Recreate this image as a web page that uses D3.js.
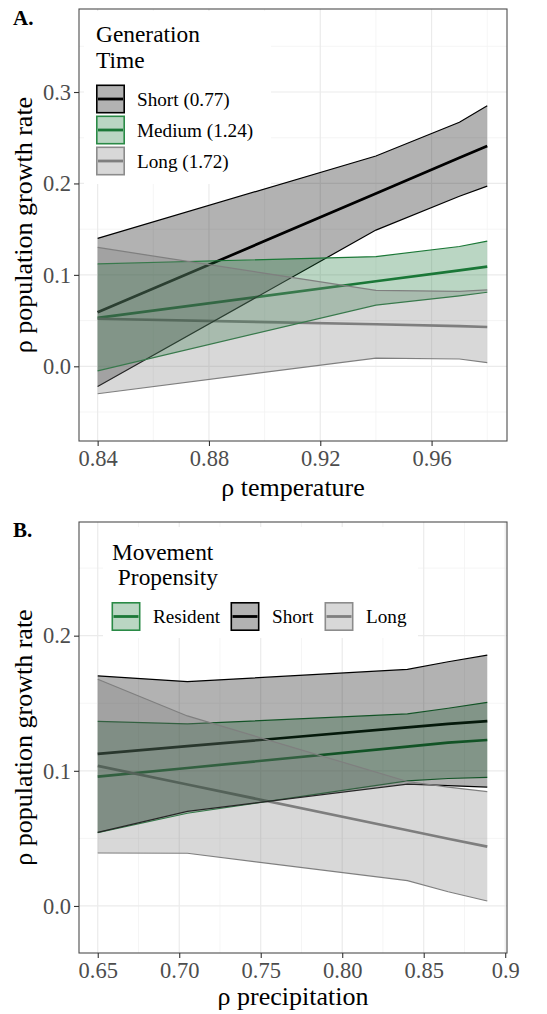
<!DOCTYPE html>
<html>
<head>
<meta charset="utf-8">
<script src="https://cdn.jsdelivr.net/npm/d3@7"></script>
<style>
  html, body { margin: 0; padding: 0; background: #ffffff; }
  svg, svg text { font-family: "Liberation Serif", "Times New Roman", Times, "Noto Serif", "Nimbus Roman", "FreeSerif", "Tinos", "DejaVu Serif", serif !important; }
</style>
</head>
<body>
<svg id="fig" width="547" height="1014"></svg>
<script>
// ---- Panel A: generation time vs. temperature correlation ----
const tempX = [0.84, 0.94, 0.97, 0.98];
const genGroups = ["Short (0.77)", "Medium (1.24)", "Long (1.72)"];
const genShortMean  = [0.059, 0.189, 0.228, 0.241];
const genShortUpper = [0.140, 0.230, 0.267, 0.285];
const genShortLower = [-0.022, 0.149, 0.186, 0.197];
const genMediumMean  = [0.053, 0.093, 0.105, 0.109];
const genMediumUpper = [0.112, 0.120, 0.131, 0.137];
const genMediumLower = [-0.005, 0.067, 0.077, 0.081];
const genLongMean  = [0.052, 0.046, 0.044, 0.043];
const genLongUpper = [0.130, 0.083, 0.082, 0.0835];
const genLongLower = [-0.030, 0.009, 0.008, 0.004];
const tempTicks = [0.84, 0.88, 0.92, 0.96];
const tempTickLabels = ["0.84", "0.88", "0.92", "0.96"];
const tempMinor = [0.86, 0.90, 0.94, 0.98];
const growthTicksA = [0.0, 0.1, 0.2, 0.3];
const growthTickLabelsA = ["0.0", "0.1", "0.2", "0.3"];
const growthMinorA = [-0.05, 0.05, 0.15, 0.25, 0.35];

// ---- Panel B: movement propensity vs. precipitation correlation ----
const precipX = [0.65, 0.705, 0.84, 0.865, 0.889];
const moveGroups = ["Resident", "Short", "Long"];
const moveResidentMean  = [0.0957, 0.1021, 0.1179, 0.1208, 0.1228];
const moveResidentUpper = [0.1366, 0.1347, 0.1421, 0.1463, 0.1507];
const moveResidentLower = [0.0543, 0.0686, 0.0926, 0.0943, 0.0952];
const moveShortMean  = [0.1125, 0.1182, 0.1322, 0.1348, 0.1368];
const moveShortUpper = [0.1703, 0.1660, 0.1750, 0.1807, 0.1856];
const moveShortLower = [0.0545, 0.0700, 0.0902, 0.0890, 0.0880];
const moveLongMean  = [0.1037, 0.0899, 0.0560, 0.0497, 0.0439];
const moveLongUpper = [0.1678, 0.1406, 0.0921, 0.0880, 0.0846];
const moveLongLower = [0.0392, 0.0390, 0.0188, 0.0105, 0.0037];
const precipTicks = [0.65, 0.70, 0.75, 0.80, 0.85, 0.90];
const precipTickLabels = ["0.65", "0.70", "0.75", "0.80", "0.85", "0.9"];
const precipMinor = [0.675, 0.725, 0.775, 0.825, 0.875];
const growthTicksB = [0.0, 0.1, 0.2];
const growthTickLabelsB = ["0.0", "0.1", "0.2"];
const growthMinorB = [0.05, 0.15, 0.25];

// group colours
const COL_BLACK = "#000000";
const COL_GREEN = "#1b7837";
const COL_GREY  = "#7f7f7f";
const FILL_ALPHA = 0.3;
const SERIF = "'Liberation Serif', 'Times New Roman', Times, 'Noto Serif', 'Nimbus Roman', FreeSerif, Tinos, 'DejaVu Serif', serif";

const svg = d3.select("#fig");

function buildPanel(cfg) {
  const { left, right, top, bottom } = cfg.box;
  const x = d3.scaleLinear().domain(cfg.xDomain).range([left, right]);
  const y = d3.scaleLinear().domain(cfg.yDomain).range([bottom, top]);
  const g = svg.append("g").attr("font-family", SERIF);

  // panel background
  g.append("rect").attr("x", left).attr("y", top)
    .attr("width", right - left).attr("height", bottom - top).attr("fill", "#fff");

  // grid lines
  const grid = g.append("g");
  cfg.xMinor.forEach(v => grid.append("line")
    .attr("x1", x(v)).attr("x2", x(v)).attr("y1", top).attr("y2", bottom)
    .attr("stroke", "#f2f2f2").attr("stroke-width", 0.8));
  cfg.yMinor.filter(v => y(v) > top && y(v) < bottom).forEach(v => grid.append("line")
    .attr("x1", left).attr("x2", right).attr("y1", y(v)).attr("y2", y(v))
    .attr("stroke", "#f2f2f2").attr("stroke-width", 0.8));
  cfg.xTicks.forEach(v => grid.append("line")
    .attr("x1", x(v)).attr("x2", x(v)).attr("y1", top).attr("y2", bottom)
    .attr("stroke", "#ebebeb").attr("stroke-width", 1.2));
  cfg.yTicks.forEach(v => grid.append("line")
    .attr("x1", left).attr("x2", right).attr("y1", y(v)).attr("y2", y(v))
    .attr("stroke", "#ebebeb").attr("stroke-width", 1.2));

  // series
  const series = cfg.series.map(s => ({
    ...s,
    pts: cfg.xs.map((xv, i) => ({ x: xv, m: s.mean[i], lo: s.lower[i], hi: s.upper[i] }))
  }));

  const meanLine = d3.line().x(d => x(d.x)).y(d => y(d.m));
  const upLine = d3.line().x(d => x(d.x)).y(d => y(d.hi));
  const loLine = d3.line().x(d => x(d.x)).y(d => y(d.lo));
  const band = d3.area().x(d => x(d.x)).y0(d => y(d.lo)).y1(d => y(d.hi));

  // fitted lines sit underneath the confidence ribbons
  series.forEach(s => g.append("path").attr("d", meanLine(s.pts))
    .attr("fill", "none").attr("stroke", s.color).attr("stroke-width", 2.7));
  series.forEach(s => {
    g.append("path").attr("d", band(s.pts))
      .attr("fill", s.color).attr("fill-opacity", FILL_ALPHA).attr("stroke", "none");
    [upLine, loLine].forEach(fn => g.append("path").attr("d", fn(s.pts))
      .attr("fill", "none").attr("stroke", s.color).attr("stroke-width", 1.2));
  });

  // panel border
  g.append("rect").attr("x", left).attr("y", top)
    .attr("width", right - left).attr("height", bottom - top)
    .attr("fill", "none").attr("stroke", "#4d4d4d").attr("stroke-width", 1.1);

  // axes built with d3 axis generators
  const xAxis = d3.axisBottom(x).tickValues(cfg.xTicks)
    .tickFormat((d, i) => cfg.xTickLabels[i]).tickSize(5).tickPadding(4);
  const yAxis = d3.axisLeft(y).tickValues(cfg.yTicks)
    .tickFormat((d, i) => cfg.yTickLabels[i]).tickSize(5).tickPadding(3);

  const gx = g.append("g").attr("transform", `translate(0,${bottom})`).call(xAxis);
  const gy = g.append("g").attr("transform", `translate(${left},0)`).call(yAxis);
  [gx, gy].forEach(ax => {
    ax.attr("font-family", SERIF).attr("font-size", 22.5);
    ax.select(".domain").remove();
    ax.selectAll(".tick line").attr("stroke", "#333333").attr("stroke-width", 1.1);
    ax.selectAll(".tick text").attr("fill", "#4d4d4d");
  });
  gx.selectAll(".tick text").attr("dy", "0.71em");

  // axis titles
  g.append("text").attr("x", (left + right) / 2).attr("y", cfg.xTitleY)
    .attr("text-anchor", "middle").attr("font-size", 26).attr("fill", "#000")
    .text(cfg.xTitle);
  g.append("text")
    .attr("transform", `translate(32,${(top + bottom) / 2}) rotate(-90)`)
    .attr("text-anchor", "middle").attr("font-size", 26).attr("fill", "#000")
    .text("ρ population growth rate");

  // panel tag
  g.append("text").attr("x", 13).attr("y", cfg.tagY)
    .attr("font-size", 21).attr("font-weight", "bold").attr("fill", "#000")
    .text(cfg.tag);

  // legend
  const L = cfg.legend;
  const lg = g.append("g");
  lg.append("rect").attr("x", L.box[0]).attr("y", L.box[1])
    .attr("width", L.box[2]).attr("height", L.box[3]).attr("fill", "#fff");
  L.title.forEach((t, i) => lg.append("text")
    .attr("x", L.titleX[i]).attr("y", L.titleY[i])
    .attr("font-size", 23.4).attr("fill", "#000").attr("xml:space", "preserve").text(t));
  series.forEach((s, i) => {
    const kx = L.keyX[i], ky = L.keyY[i], ks = L.keySize;
    lg.append("rect").attr("x", kx).attr("y", ky).attr("width", ks).attr("height", ks)
      .attr("fill", "#fff");
    lg.append("rect").attr("x", kx + 0.8).attr("y", ky + 0.8)
      .attr("width", ks - 1.6).attr("height", ks - 1.6)
      .attr("fill", s.color).attr("fill-opacity", FILL_ALPHA)
      .attr("stroke", s.keyStroke).attr("stroke-width", 1.6);
    lg.append("line").attr("x1", kx + 2).attr("x2", kx + ks - 2)
      .attr("y1", ky + ks / 2).attr("y2", ky + ks / 2)
      .attr("stroke", s.color).attr("stroke-width", 2.8);
    lg.append("text").attr("x", L.labelX[i]).attr("y", ky + ks / 2)
      .attr("dy", "0.35em").attr("font-size", 19.2).attr("fill", "#000")
      .text(s.name);
  });
}

buildPanel({
  tag: "A.", tagY: 25,
  box: { left: 79, right: 507, top: 9, bottom: 441 },
  xDomain: [0.8333, 0.9871], yDomain: [-0.0817, 0.3908],
  xs: tempX,
  xTicks: tempTicks, xTickLabels: tempTickLabels, xMinor: tempMinor,
  yTicks: growthTicksA, yTickLabels: growthTickLabelsA, yMinor: growthMinorA,
  xTitle: "ρ temperature", xTitleY: 496,
  series: [
    { name: genGroups[0], color: COL_BLACK, keyStroke: "#000", mean: genShortMean, upper: genShortUpper, lower: genShortLower },
    { name: genGroups[1], color: COL_GREEN, keyStroke: "#2a8a46", mean: genMediumMean, upper: genMediumUpper, lower: genMediumLower },
    { name: genGroups[2], color: COL_GREY, keyStroke: "#8c8c8c", mean: genLongMean, upper: genLongUpper, lower: genLongLower }
  ],
  legend: {
    box: [84, 11, 187, 173],
    title: ["Generation", "Time"], titleX: [96, 96], titleY: [42, 68],
    keySize: 29, keyX: [96, 96, 96], keyY: [84.5, 115.5, 146.5],
    labelX: [137, 137, 137]
  }
});

buildPanel({
  tag: "B.", tagY: 537,
  box: { left: 79, right: 507, top: 522, bottom: 953 },
  xDomain: [0.6385, 0.9011], yDomain: [-0.0348, 0.2841],
  xs: precipX,
  xTicks: precipTicks, xTickLabels: precipTickLabels, xMinor: precipMinor,
  yTicks: growthTicksB, yTickLabels: growthTickLabelsB, yMinor: growthMinorB,
  xTitle: "ρ precipitation", xTitleY: 1005,
  series: [
    { name: moveGroups[0], color: COL_GREEN, keyStroke: "#2a8a46", mean: moveResidentMean, upper: moveResidentUpper, lower: moveResidentLower },
    { name: moveGroups[1], color: COL_BLACK, keyStroke: "#000", mean: moveShortMean, upper: moveShortUpper, lower: moveShortLower },
    { name: moveGroups[2], color: COL_GREY, keyStroke: "#8c8c8c", mean: moveLongMean, upper: moveLongUpper, lower: moveLongLower }
  ],
  legend: {
    box: [103, 527, 315, 111],
    title: ["Movement", " Propensity"], titleX: [112, 112], titleY: [560, 585],
    keySize: 29, keyX: [111.5, 230.5, 324.5], keyY: [602, 602, 602],
    labelX: [153, 272, 366]
  }
});
</script>
</body>
</html>
